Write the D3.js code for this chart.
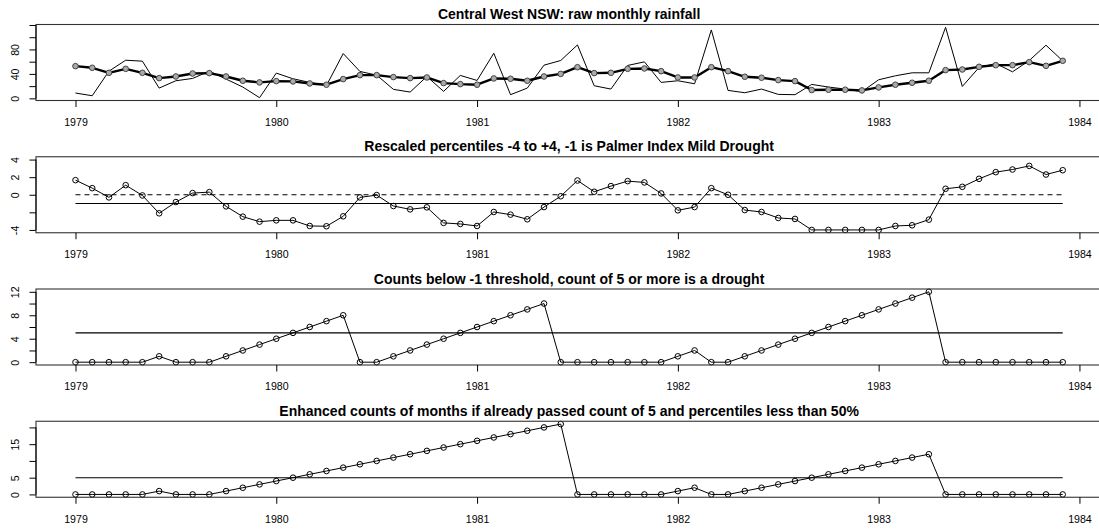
<!DOCTYPE html>
<html><head><meta charset="utf-8">
<script src="https://cdn.jsdelivr.net/npm/d3@7"></script>
<style>
html,body{margin:0;padding:0;background:#fff;}
svg{display:block;font-family:"Liberation Sans",Arial,Helvetica,sans-serif;}
</style></head>
<body>
<svg id="chart" width="1099" height="529"></svg>
<script>
// ---- data ----
const startYear = 1979;
const nMonths = 60;
const xTicks = [1979, 1980, 1981, 1982, 1983, 1984];
const xTickLabels = ["1979", "1980", "1981", "1982", "1983", "1984"];

const titles = [
  "Central West NSW: raw monthly rainfall",
  "Rescaled percentiles -4 to +4, -1 is Palmer Index Mild Drought",
  "Counts below -1 threshold, count of 5 or more is a drought",
  "Enhanced counts of months if already passed count of 5 and percentiles less than 50%"
];

const rawRain = [8.7,4.3,44.5,62.4,60.8,16.8,28.8,32.6,44.5,31.5,18.5,1.1,41.3,32,26.1,21,73.3,44,38,14.7,10.3,35.8,11.4,37.5,29.3,73.8,6,16.8,54.3,61.9,87.4,20.6,15.2,53.8,59.7,26.1,28.8,23.9,111.9,13,9.2,15.2,6.5,6,22.8,18.5,15.2,10.9,30.4,36.9,41.8,41.8,116.2,19.5,50.5,57,43.4,61.9,86.9,61.4];
const smoothRain = [52.7,50,41.8,48.3,41.8,33.1,35.8,40.7,41.3,35.8,28.8,26.1,28.2,27.7,24.4,22.3,31.5,38,38,34.8,33.1,34.2,25,23.3,22.3,32.6,32,28.8,35.8,40,51,41.3,41.8,48.3,48.9,44.5,34.2,34.2,51,44.5,35.3,33.7,29.9,28.2,13.6,14.1,14.1,13,17.9,22.3,25.5,28.8,46.2,47.2,51.6,54.3,54.3,59.2,53.2,61.4];
const percentiles = [1.66,0.75,-0.3,1.09,-0.08,-2.11,-0.83,0.19,0.3,-1.32,-2.49,-3.06,-2.91,-2.91,-3.55,-3.58,-2.45,-0.3,-0.04,-1.28,-1.66,-1.43,-3.2,-3.32,-3.55,-1.96,-2.26,-2.79,-1.4,-0.17,1.62,0.34,0.98,1.55,1.4,0.15,-1.77,-1.4,0.75,0,-1.74,-1.96,-2.64,-2.75,-4,-4,-4,-4,-4,-3.55,-3.47,-2.83,0.68,0.9,1.81,2.57,2.87,3.28,2.3,2.79];
const counts = [0,0,0,0,0,1,0,0,0,1,2,3,4,5,6,7,8,0,0,1,2,3,4,5,6,7,8,9,10,0,0,0,0,0,0,0,1,2,0,0,1,2,3,4,5,6,7,8,9,10,11,12,0,0,0,0,0,0,0,0];
const enhanced = [0,0,0,0,0,1,0,0,0,1,2,3,4,5,6,7,8,9,10,11,12,13,14,15,16,17,18,19,20,21,0,0,0,0,0,0,1,2,0,0,1,2,3,4,5,6,7,8,9,10,11,12,0,0,0,0,0,0,0,0];

const yTicks1 = [0,20,40,60,80,100,120];   const yLabels1 = [0,40,80];
const yTicks2 = [-4,-2,0,2,4];             const yLabels2 = [-4,0,2,4];
const yTicks3 = [0,2,4,6,8,10,12];         const yLabels3 = [0,4,8,12];
const yTicks4 = [0,5,10,15,20];            const yLabels4 = [0,5,15];
const hLines2 = [{v:0, dash:true}, {v:-1, dash:false}];
const hLines3 = [{v:5, dash:false}];
const hLines4 = [{v:5, dash:false}];

// ---- layout ----
const svg = d3.select("#chart");
const boxLeft = 36, boxRight = 1102.2;
const panelStep = 132.25, firstTop = 24.5, boxH = 76;
const titleX = (boxLeft + boxRight) / 2;

const t = d3.range(nMonths).map(i => startYear + i / 12);
const tExt = 0.04 * (t[t.length-1] - t[0]);
const x = d3.scaleLinear().domain([t[0] - tExt, t[t.length-1] + tExt]).range([boxLeft, boxRight]);

function rDomain(arrs, lim) {
  let lo, hi;
  if (lim) { lo = lim[0]; hi = lim[1]; }
  else { const all = arrs.flat(); lo = d3.min(all); hi = d3.max(all); }
  const e = 0.04 * (hi - lo);
  return [lo - e, hi + e];
}

const panels = [
  {series: [{d: rawRain, w: 1, pts: false}, {d: smoothRain, w: 2.4, pts: true, bold: true}],
   dom: rDomain([rawRain, smoothRain]), ticks: yTicks1, labels: yLabels1, h: []},
  {series: [{d: percentiles, w: 1, pts: true}], dom: rDomain(null, [-4, 4]), ticks: yTicks2, labels: yLabels2, h: hLines2},
  {series: [{d: counts, w: 1, pts: true}], dom: rDomain([counts]), ticks: yTicks3, labels: yLabels3, h: hLines3},
  {series: [{d: enhanced, w: 1, pts: true}], dom: rDomain([enhanced]), ticks: yTicks4, labels: yLabels4, h: hLines4}
];

panels.forEach((p, k) => {
  const top = firstTop + k * panelStep, bottom = top + boxH;
  const y = d3.scaleLinear().domain(p.dom).range([bottom, top]);
  const g = svg.append("g");

  // title
  g.append("text").attr("x", titleX).attr("y", top - 5.5)
    .attr("text-anchor", "middle").attr("font-weight", "bold").attr("font-size", "14px")
    .attr("fill", "#000").text(titles[k]);

  // reference lines
  p.h.forEach(h => {
    g.append("line").attr("x1", x(t[0])).attr("x2", x(t[t.length-1]))
      .attr("y1", y(h.v)).attr("y2", y(h.v))
      .attr("stroke", "#000").attr("stroke-width", 1.1)
      .attr("stroke-dasharray", h.dash ? "5,4" : null);
  });

  // series
  const line = d3.line().x((d, i) => x(t[i])).y(d => y(d));
  p.series.forEach(s => {
    g.append("path").datum(s.d).attr("d", line).attr("fill", "none")
      .attr("stroke", "#000").attr("stroke-width", s.w).attr("stroke-linejoin", "round");
    if (s.pts) {
      g.selectAll(null).data(s.d).enter().append("circle")
        .attr("cx", (d, i) => x(t[i])).attr("cy", d => y(d)).attr("r", 2.8)
        .attr("fill", s.bold ? "#aaa" : "none").attr("stroke", s.bold ? "#444" : "#000")
        .attr("stroke-width", 1);
    }
  });

  // box
  g.append("rect").attr("x", boxLeft).attr("y", top).attr("width", boxRight - boxLeft).attr("height", boxH)
    .attr("fill", "none").attr("stroke", "#333").attr("stroke-width", 1.1);

  // x axis ticks
  const xa = d3.axisBottom(x).tickValues(xTicks).tickSize(6.5).tickPadding(0)
    .tickFormat((d, i) => xTickLabels[i]);
  const gx = g.append("g").attr("transform", `translate(0,${bottom})`).call(xa);
  gx.select(".domain").remove();
  gx.selectAll(".tick line").attr("stroke", "#000");
  gx.selectAll(".tick text").attr("font-size", "10.6px").attr("font-family", "Liberation Sans, Arial, sans-serif")
    .attr("fill", "#000").attr("dy", null).attr("y", 25.3);

  // y axis ticks
  const ya = d3.axisLeft(y).tickValues(p.ticks).tickSize(6.5).tickFormat(d => p.labels.includes(d) ? String(d) : "");
  const gy = g.append("g").attr("transform", `translate(${boxLeft},0)`).call(ya);
  gy.select(".domain").attr("d", `M0,${y(p.ticks[0])}V${y(p.ticks[p.ticks.length-1])}`).attr("stroke", "#000");
  gy.selectAll(".tick line").attr("stroke", "#000");
  gy.selectAll(".tick text").attr("font-size", "10.6px").attr("font-family", "Liberation Sans, Arial, sans-serif")
    .attr("fill", "#000").attr("x", null).attr("dy", null).attr("text-anchor", "middle")
    .attr("transform", "translate(-17.2,0) rotate(-90)");
});
</script>
</body></html>
